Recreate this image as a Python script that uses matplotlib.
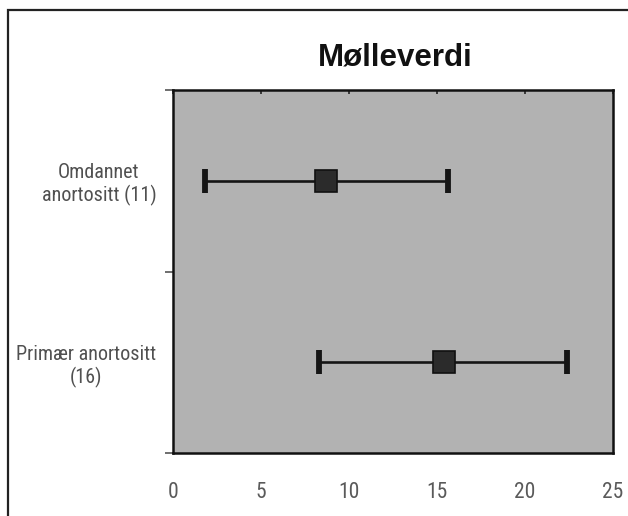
import matplotlib
matplotlib.use("Agg")
import matplotlib.pyplot as plt
from matplotlib.lines import Line2D
from matplotlib import font_manager as fm

# mean and range per rock type (n in parentheses)
groups = ["Omdannet\nanortositt (11)", "Primær anortositt\n(16)"]
means = [8.7, 15.4]
lows = [1.8, 8.3]
highs = [15.6, 22.4]
xticks = [0, 5, 10, 15, 20, 25]

# pick a narrow face for the axis texts, whatever is installed
names = {f.name for f in fm.fontManager.ttflist}
narrow = next((n for n in ["Liberation Sans Narrow", "DejaVu Sans Condensed",
                           "Roboto Condensed", "Open Sans Condensed", "Noto Sans Condensed"]
               if n in names), None)
if narrow:
    NARROW = fm.FontProperties(family=[narrow, "DejaVu Sans"])
else:
    NARROW = fm.FontProperties(family=["Liberation Sans", "DejaVu Sans"])

bold_files = [f.fname for f in fm.fontManager.ttflist
              if f.name == "Liberation Sans" and f.weight in (700, "bold") and f.style == "normal"]
TITLE = fm.FontProperties(fname=bold_files[0]) if bold_files else \
    fm.FontProperties(family="DejaVu Sans", weight="bold")

fig = plt.figure(figsize=(6.28, 5.16), dpi=100)
fig.patch.set_facecolor("white")

# outer frame (only top and left edges are inside the page)
fx, fy = 8 / 628, 1 - 10 / 516
fig.add_artist(Line2D([fx, fx, 1.0], [0.0, fy, fy], transform=fig.transFigure,
                      color="#222222", lw=1.6, solid_joinstyle="miter"))

fig.text(0.63, 1 - 57 / 516, "Mølleverdi", ha="center", va="center",
         fontproperties=TITLE, fontsize=22.5, color="#111111")

ax = fig.add_axes([173 / 628, 1 - 453 / 516, 440 / 628, 363 / 516])
ax.set_facecolor("#b2b2b2")

ypos = [0.5, 1.5]
err = [[m - lo for m, lo in zip(means, lows)], [hi - m for m, hi in zip(means, highs)]]
ax.errorbar(means, ypos, xerr=err, fmt="none", ecolor="#151515", elinewidth=1.9,
            capsize=8.5, capthick=4.2, zorder=2)
ax.plot(means, ypos, "s", ms=16, mfc="#2b2b2b", mec="#111111", mew=1.2, zorder=3)

ax.set_xlim(0, 25)
ax.set_ylim(2, 0)
ax.set_xticks(xticks)
ax.set_xticklabels([str(t) for t in xticks], fontproperties=NARROW, fontsize=15.5,
                   color="#5a5a5a")
ax.tick_params(axis="x", bottom=False, top=True, direction="in", length=3, width=1.2,
               color="#222222", labelbottom=True, labeltop=False, pad=21)

ax.set_yticks([0, 1, 2])
ax.set_yticklabels([])
ax.tick_params(axis="y", which="major", direction="out", length=6, width=1.2, color="#555555")
ax.set_yticks(ypos, minor=True)
ax.set_yticklabels(groups, minor=True, fontproperties=NARROW, fontsize=14.5, color="#505050")
ax.tick_params(axis="y", which="minor", length=0, pad=12)
for lab in ax.get_yticklabels(minor=True):
    lab.set_multialignment("center")

for s in ax.spines.values():
    s.set_linewidth(1.8)
    s.set_color("#111111")

fig.savefig("out.png", dpi=100)
